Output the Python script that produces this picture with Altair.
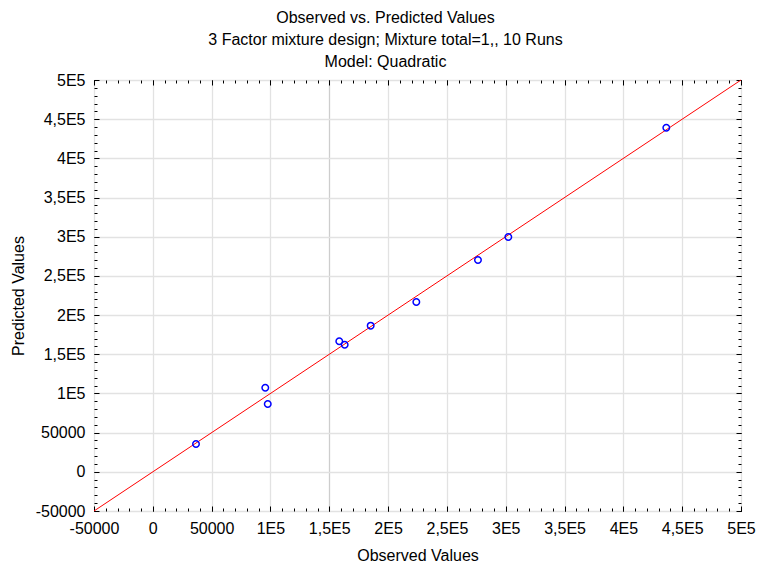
import altair as alt
import pandas as pd

# Observed vs. predicted responses of the 10 mixture runs
observed = [36700, 95600, 97700, 158500, 163100, 185200, 224000, 276400, 302200, 436500]
predicted = [35500, 107300, 86500, 166600, 162200, 186500, 216700, 270300, 299700, 439100]

# Reference line: predicted = observed over the full axis range
diag = [-50000, 500000]

axis_min, axis_max = -50000, 500000
major_ticks = list(range(-50000, 500001, 50000))
minor_ticks = list(range(-50000, 500001, 10000))

FONT = "Liberation Sans"
FS = 16
LABEL_EXPR = (
    "abs(datum.value) < 100000 ? toString(datum.value) : "
    "replace(toString(datum.value / 100000), '.', ',') + 'E5'"
)

points = pd.DataFrame({"obs": observed, "pred": predicted})
line = pd.DataFrame({"obs": diag, "pred": diag})

scale = alt.Scale(domain=[axis_min, axis_max], nice=False, zero=False)


def label_axis(orient, title, title_pad, grid_color):
    return alt.Axis(
        orient=orient, values=major_ticks, labelExpr=LABEL_EXPR, ticks=False,
        domain=False, grid=True, gridColor=grid_color, gridWidth=1.3,
        labelFont=FONT, labelFontSize=FS, labelColor="black", labelPadding=9,
        titleFont=FONT, titleFontSize=FS, titleFontWeight="normal", titleColor="black",
        titlePadding=title_pad, title=title, labelFlush=False, labelOverlap=False,
    )


def tick_axis(orient, values, size):
    # ticks pointing into the plot: the axis is shifted inward by its own tick length
    return alt.Axis(
        orient=orient, values=values, offset=-size, tickSize=size, tickColor="black",
        tickWidth=1, labels=False, domain=False, grid=False, title=None,
    )


x_grid = {"condition": {"test": "datum.value == 150000", "value": "#cdcdcd"}, "value": "#e2e2e2"}

main = alt.Chart(line).mark_line(color="#ff0000", strokeWidth=1).encode(
    x=alt.X("obs:Q", scale=scale, axis=label_axis("bottom", "Observed Values", 11, x_grid)),
    y=alt.Y("pred:Q", scale=scale, axis=label_axis("left", "Predicted Values", 9, "#e2e2e2")),
)

dots = alt.Chart(points).mark_point(
    shape="circle", filled=False, color="#0000ff", size=42, strokeWidth=1.5, opacity=1
).encode(
    x=alt.X("obs:Q", scale=scale, axis=None),
    y=alt.Y("pred:Q", scale=scale, axis=None),
)

tick_layers = []
for orient in ["bottom", "top", "left", "right"]:
    for values, size in [(major_ticks, 5), (minor_ticks, 3)]:
        ax = tick_axis(orient, values, size)
        if orient in ("bottom", "top"):
            enc = dict(x=alt.X("obs:Q", scale=scale, axis=ax),
                       y=alt.Y("pred:Q", scale=scale, axis=None))
        else:
            enc = dict(x=alt.X("obs:Q", scale=scale, axis=None),
                       y=alt.Y("pred:Q", scale=scale, axis=ax))
        tick_layers.append(alt.Chart(line).mark_line(opacity=0).encode(**enc))

chart = (
    alt.layer(main, *tick_layers, dots)
    .resolve_axis(x="independent", y="independent")
    .properties(
        width=647,
        height=431,
        autosize=alt.AutoSizeParams(type="none"),
        padding={"left": 94, "top": 80, "right": 17, "bottom": 53},
        title=alt.Title(
            ["Observed vs. Predicted Values",
             "3 Factor mixture design; Mixture total=1,, 10 Runs",
             "Model: Quadratic"],
            font=FONT, fontSize=FS, fontWeight="normal", color="black",
            anchor="middle", lineHeight=22, offset=2, dx=-32,
        ),
    )
    .configure_view(stroke="black", strokeWidth=1.5)
    .configure(background="white")
)

chart.save("out.html", embed_options={"renderer": "svg", "actions": False})
